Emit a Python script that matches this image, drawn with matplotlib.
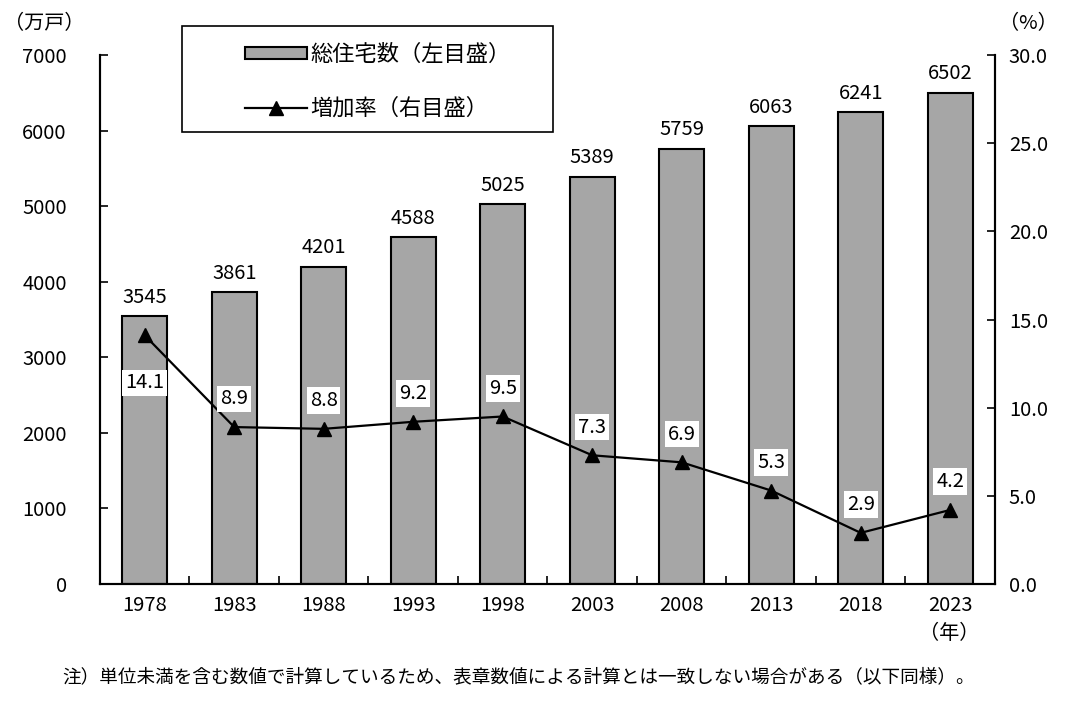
import matplotlib.pyplot as plt
from matplotlib.patches import Rectangle
import numpy as np

plt.rcParams['font.family'] = ['Noto Sans CJK JP', 'DejaVu Sans']

years = ['1978', '1983', '1988', '1993', '1998', '2003', '2008', '2013', '2018', '2023']
housing = [3545, 3861, 4201, 4588, 5025, 5389, 5759, 6063, 6241, 6502]
growth = [14.1, 8.9, 8.8, 9.2, 9.5, 7.3, 6.9, 5.3, 2.9, 4.2]

FS = 14.5

fig = plt.figure(figsize=(10.74, 7.01), dpi=100)
ax = fig.add_axes([0.0931, 0.1669, 0.8333, 0.7546])
ax2 = ax.twinx()

x = np.arange(len(years))
bars = ax.bar(x, housing, width=0.5, color='#a6a6a6', edgecolor='black', linewidth=1.5,
              label='総住宅数（左目盛）', zorder=2)
for xi, v in zip(x, housing):
    ax.text(xi, v + 110, str(v), ha='center', va='bottom', fontsize=FS)

line, = ax2.plot(x, growth, color='black', lw=1.6, marker='^', markersize=10,
                 label='増加率（右目盛）', zorder=3)
for i, (xi, v) in enumerate(zip(x, growth)):
    dy = -2.7 if i == 0 else 1.6
    ax2.text(xi, v + dy, f'{v:.1f}', ha='center', va='center', fontsize=FS,
             bbox=dict(facecolor='white', edgecolor='none', pad=2), zorder=4)

ax.set_xlim(-0.5, len(years) - 0.5)
ax.set_ylim(0, 7000)
ax2.set_ylim(0, 30)
ax.set_yticks(range(0, 7001, 1000))
ax2.set_yticks(np.arange(0, 30.1, 5))
ax2.set_yticklabels([f'{t:.1f}' for t in np.arange(0, 30.1, 5)])

ax.set_xticks(x)
ax.set_xticklabels(years)
ax.set_xticks(np.arange(-0.5, len(years)), minor=True)
ax.tick_params(axis='x', which='major', length=0, pad=8, labelsize=FS)
ax.tick_params(axis='x', which='minor', direction='in', length=6, width=1.2)
ax.tick_params(axis='y', direction='in', length=6, width=1.2, labelsize=FS, pad=24)
ax2.tick_params(axis='y', direction='in', length=6, width=1.2, labelsize=FS, pad=10)

for a in (ax, ax2):
    a.spines['top'].set_visible(False)
    for s in ('left', 'right', 'bottom'):
        a.spines[s].set_linewidth(1.5)

fig.text(0.004, 0.966, '（万戸）', fontsize=FS, ha='left', va='center')
fig.text(0.93, 0.966, '（%）', fontsize=FS, ha='left', va='center')
fig.text(0.884, 0.096, '（年）', fontsize=FS, ha='center', va='center')
fig.text(0.058, 0.034, '注）単位未満を含む数値で計算しているため、表章数値による計算とは一致しない場合がある（以下同様）。',
         fontsize=13.4, ha='left', va='center')

# legend box (drawn separately so it can be wider than its contents)
W, H = 1074, 701
fig.patches.append(Rectangle((182 / W, 1 - 132 / H), (553 - 182) / W, (132 - 26) / H,
                             transform=fig.transFigure, facecolor='white',
                             edgecolor='black', linewidth=1.2, zorder=5))
leg = fig.legend([bars, line], ['総住宅数（左目盛）', '増加率（右目盛）'],
                 loc='upper left', bbox_to_anchor=(236 / W, 1 - 34 / H), fontsize=16,
                 frameon=False, labelspacing=1.4, handlelength=2.8, handleheight=0.5,
                 borderaxespad=0, borderpad=0.4, handletextpad=0.15)
leg.set_zorder(6)

fig.savefig('out.png', dpi=100)
